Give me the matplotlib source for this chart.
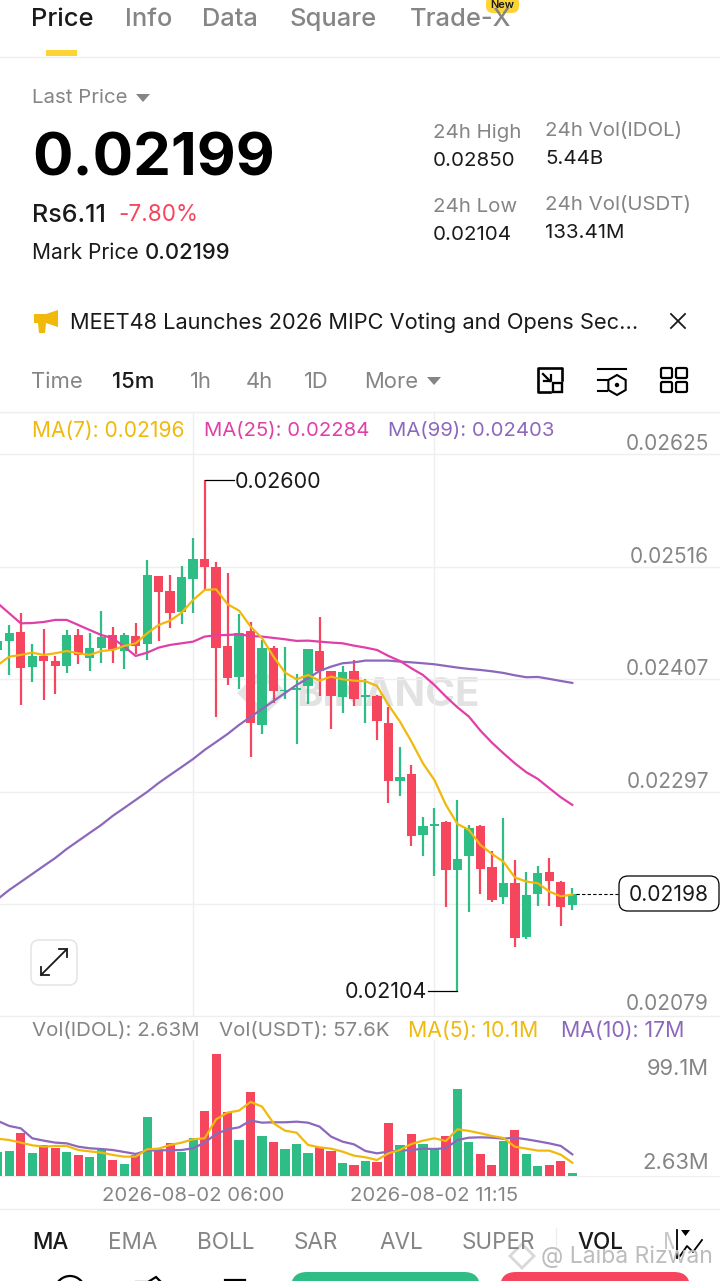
import numpy as np
import matplotlib
matplotlib.use('Agg')
import matplotlib.pyplot as plt
from matplotlib.patches import FancyBboxPatch, Polygon, Rectangle, RegularPolygon, Circle

plt.rcParams['font.family'] = ['Inter', 'DejaVu Sans']

# candles, prices in units of 0.00001
opens = [2435.0, 2443.8, 2452.5, 2418.5, 2429.2, 2424.7, 2419.5, 2449.6, 2427.2, 2437.3, 2449.6, 2434.0, 2448.6,
         2440.8, 2506.6, 2492.7, 2471.6, 2503.7, 2523.7, 2515.6, 2438.6, 2408.5, 2453.5, 2361.8, 2436.6, 2394.9,
         2396.2, 2399.7, 2434.4, 2414.3, 2389.4, 2414.3, 2389.7, 2390.7, 2364.4, 2307.8, 2314.3, 2255.6, 2264.4,
         2268.3, 2221.6, 2234.6, 2264.4, 2224.2, 2194.8, 2209.0, 2156.6, 2197.7, 2219.0, 2210.0, 2187.6]
closes = [2443.8, 2451.5, 2417.5, 2429.2, 2424.7, 2419.5, 2449.6, 2430.2, 2437.3, 2447.6, 2435.0, 2449.6, 2438.9,
          2507.6, 2491.7, 2470.6, 2505.6, 2523.7, 2515.6, 2436.6, 2407.5, 2451.5, 2363.8, 2436.6, 2394.9, 2396.5,
          2398.1, 2435.7, 2415.0, 2390.3, 2413.3, 2387.4, 2391.0, 2365.7, 2307.8, 2311.3, 2254.7, 2264.0, 2266.0,
          2221.6, 2232.3, 2261.8, 2222.6, 2192.5, 2209.0, 2155.6, 2197.0, 2218.1, 2210.3, 2185.7, 2197.7]
highs = [2452.5, 2459.3, 2470.6, 2440.5, 2455.4, 2429.2, 2454.4, 2455.4, 2451.5, 2472.6, 2457.4, 2451.5, 2461.2,
         2522.4, 2506.9, 2507.6, 2516.3, 2543.5, 2600.0, 2520.2, 2509.5, 2469.7, 2462.2, 2444.7, 2438.6, 2437.6,
         2411.7, 2436.3, 2466.8, 2415.0, 2419.5, 2425.3, 2407.2, 2391.6, 2380.0, 2340.5, 2323.3, 2273.1, 2281.2,
         2268.6, 2289.0, 2265.4, 2265.4, 2240.1, 2271.5, 2231.4, 2219.0, 2225.2, 2232.6, 2210.3, 2203.5]
lows = [2422.4, 2410.7, 2381.6, 2404.3, 2386.4, 2392.3, 2412.7, 2421.4, 2414.6, 2422.4, 2422.4, 2416.6, 2431.1,
        2425.3, 2443.8, 2456.7, 2460.3, 2470.6, 2493.3, 2370.3, 2400.7, 2397.5, 2330.8, 2353.4, 2383.2, 2387.7,
        2343.7, 2382.6, 2390.3, 2358.6, 2373.5, 2380.6, 2364.4, 2347.6, 2286.7, 2293.5, 2244.3, 2235.2, 2215.5,
        2185.7, 2104.0, 2180.5, 2198.3, 2190.6, 2188.6, 2146.5, 2154.6, 2186.7, 2186.7, 2167.3, 2182.5]

ma7 = [2420.4, 2428.5, 2430.2, 2432.4, 2430.2, 2431.8, 2434.0, 2431.8, 2430.2, 2434.0, 2435.0, 2438.9, 2441.5,
       2451.2, 2459.3, 2463.5, 2471.3, 2483.6, 2493.3, 2494.0, 2479.4, 2473.2, 2457.7, 2446.4, 2428.5, 2413.0,
       2406.5, 2410.7, 2405.2, 2409.1, 2406.5, 2405.2, 2404.6, 2400.1, 2381.6, 2365.4, 2346.0, 2324.9, 2308.7,
       2284.5, 2266.0, 2260.2, 2245.6, 2236.9, 2229.4, 2214.0, 2210.0, 2208.4, 2200.3, 2195.7, 2197.4]
ma25 = [2480.3, 2470.6, 2460.9, 2461.2, 2462.2, 2464.2, 2464.2, 2459.3, 2454.4, 2449.6, 2446.4, 2438.3, 2429.2,
        2432.4, 2437.3, 2439.9, 2441.5, 2443.1, 2448.0, 2449.3, 2449.6, 2450.2, 2448.6, 2448.0, 2446.7, 2445.4,
        2443.8, 2444.1, 2443.1, 2442.2, 2441.5, 2439.2, 2437.3, 2435.0, 2429.2, 2424.3, 2417.2, 2410.7, 2401.0,
        2389.7, 2379.3, 2370.3, 2356.7, 2345.0, 2334.7, 2324.9, 2316.2, 2309.7, 2300.7, 2291.9, 2284.5]
ma99 = [2193.1, 2201.9, 2209.6, 2217.4, 2225.2, 2232.9, 2241.7, 2249.5, 2257.3, 2265.0, 2273.8, 2281.5, 2289.3,
        2297.1, 2305.8, 2313.6, 2321.3, 2329.1, 2337.9, 2345.6, 2353.4, 2362.2, 2370.0, 2377.7, 2385.5, 2393.2,
        2401.0, 2407.5, 2414.6, 2418.8, 2422.1, 2423.0, 2424.7, 2424.7, 2424.7, 2423.7, 2423.0, 2422.1, 2421.1,
        2419.5, 2417.9, 2416.6, 2415.6, 2414.3, 2412.7, 2410.4, 2408.5, 2408.8, 2406.9, 2404.9, 2403.0]

# volume in millions
volume = [19.8, 20.6, 35.2, 19.0, 25.2, 23.0, 19.5, 17.1, 15.7, 21.1, 13.0, 9.5, 17.1, 47.7, 21.1, 26.5, 19.8,
          30.6, 53.1, 99.1, 51.7, 29.2, 68.0, 32.8, 27.9, 21.7, 25.7, 18.4, 23.3, 20.6, 10.3, 8.7, 11.9, 11.4,
          43.3, 25.2, 34.1, 26.0, 23.0, 32.5, 70.9, 27.4, 17.9, 9.2, 28.4, 37.4, 18.1, 8.4, 8.7, 12.5, 2.7]
vol_ma5 = [30.3, 29.2, 27.1, 24.9, 23.8, 24.4, 24.4, 21.1, 20.0, 19.0, 17.1, 15.7, 15.7, 21.7, 22.2, 25.2, 27.1,
           29.8, 30.6, 46.0, 51.5, 53.1, 60.1, 56.3, 42.8, 36.8, 35.2, 25.2, 23.3, 22.2, 19.8, 16.5, 15.2, 13.0,
           18.4, 21.1, 26.0, 28.7, 30.6, 28.4, 37.9, 36.6, 34.7, 32.5, 30.9, 23.8, 22.2, 20.6, 20.6, 17.3, 10.8]
vol_ma10 = [44.7, 40.6, 38.7, 30.6, 28.7, 27.1, 26.5, 23.8, 22.5, 21.9, 21.1, 19.5, 17.9, 20.6, 20.9, 20.9, 21.1,
            22.5, 27.1, 34.1, 37.9, 39.5, 45.0, 43.3, 43.6, 43.6, 44.1, 43.3, 40.1, 32.0, 27.9, 25.7, 20.3, 18.4,
            19.8, 20.6, 21.1, 22.2, 21.9, 22.5, 29.2, 31.1, 31.4, 31.1, 30.3, 31.1, 29.8, 28.2, 26.5, 24.4, 17.6]

price_ticks = [0.02625, 0.02516, 0.02407, 0.02297, 0.02188]
price_tick_labels = ['0.02625', '0.02516', '0.02407', '0.02297']
date_positions = [17, 38]
date_labels = ['2026-08-02 06:00', '2026-08-02 11:15']

GREEN = '#2ebd85'
RED = '#f6465d'
YELLOW = '#f0b90b'
PINK = '#e13fa8'
PURPLE = '#8c68bd'
GRAY = '#858585'
DARK = '#1a1a1a'
GRID = '#efefef'

W, H = 720, 1281
fig = plt.figure(figsize=(W / 100, H / 100), dpi=100, facecolor='white')


def box(top, bottom):
    return [0, 1 - bottom / H, 1, (bottom - top) / H]


x = np.arange(len(opens))
xlim = (2.2 / 11.49, 722.2 / 11.49)
o, c, hi, lo = [np.array(v) / 1e5 for v in (opens, closes, highs, lows)]
up = c >= o
colors = np.where(up, GREEN, RED)

# price panel
ax = fig.add_axes(box(412, 1016), facecolor='none')
ax.set_xlim(xlim)
ax.set_ylim(0.020794, 0.026662)
ax.vlines(x, lo, hi, colors=colors, lw=1.6, zorder=3)
ax.bar(x, np.abs(c - o), bottom=np.minimum(o, c), width=0.81, color=colors, zorder=4)
ax.plot(x, np.array(ma99) / 1e5, color=PURPLE, lw=1.6, zorder=5)
ax.plot(x, np.array(ma25) / 1e5, color=PINK, lw=1.6, zorder=6)
ax.plot(x, np.array(ma7) / 1e5, color=YELLOW, lw=1.6, zorder=7)
ax.set_xticks(date_positions)
ax.set_yticks(price_ticks)
ax.grid(True, color=GRID, lw=1, zorder=0)
ax.tick_params(length=0, labelbottom=False, labelleft=False)
for s in ax.spines.values():
    s.set_visible(False)
for val, lab in zip(price_ticks, price_tick_labels):
    ax.annotate(lab, (1, val), xycoords=ax.get_yaxis_transform(), xytext=(-8, 0), textcoords='offset points',
                ha='right', va='bottom', fontsize=15, color=GRAY, zorder=8)
ax.annotate('0.02079', (1, 0.02079), xycoords=ax.get_yaxis_transform(), xytext=(-8, 1.5), textcoords='offset points',
            ha='right', va='bottom', fontsize=15, color=GRAY, annotation_clip=False)

# high and low markers
ax.plot([18, 20.6], [0.026, 0.026], color='black', lw=0.9, zorder=8)
ax.annotate('0.02600', (20.65, 0.026), xytext=(0, -1.5), textcoords='offset points', fontsize=15.5, color=DARK,
            va='center', zorder=8)
ax.plot([37.45, 40], [0.02104, 0.02104], color='black', lw=0.9, zorder=8)
ax.annotate('0.02104', (37.4, 0.02104), xytext=(0, -1), textcoords='offset points', fontsize=15.5, color=DARK,
            va='center', ha='right', zorder=8)
ax.plot([50.3, 54], [c[-1], c[-1]], color='black', lw=0.8, dashes=(3, 2), zorder=8)

# volume panel
vax = fig.add_axes(box(1040, 1176), facecolor='none')
vax.set_xlim(xlim)
vax.set_ylim(0, 110.4)
vax.bar(x, volume, width=0.8, color=colors, zorder=3)
vax.plot(x, vol_ma10, color=PURPLE, lw=1.6, zorder=5)
vax.plot(x, vol_ma5, color=YELLOW, lw=1.6, zorder=6)
vax.set_xticks(date_positions)
vax.set_xticklabels(date_labels, fontsize=14.6, color=GRAY)
vax.set_yticks([])
vax.grid(True, axis='x', color=GRID, lw=1, zorder=0)
vax.tick_params(length=0, pad=8, labelleft=False)
for s in vax.spines.values():
    s.set_visible(False)
vax.spines['bottom'].set_visible(True)
vax.spines['bottom'].set_color(GRID)

# everything else lives in pixel coordinates
ui = fig.add_axes([0, 0, 1, 1], facecolor='none', zorder=10)
ui.set_xlim(0, W)
ui.set_ylim(H, 0)
ui.axis('off')


def label(px, py, s, size, color=DARK, weight='normal', ha='left', alpha=1.0, z=6):
    ui.text(px, py + 2, s, fontsize=size * 0.72, color=color, fontweight=weight, ha=ha, va='center', alpha=alpha,
            zorder=z)


def hline(y0, x0=0, x1=W, color=GRID, lw=1):
    ui.plot([x0, x1], [y0, y0], color=color, lw=lw)


def rbox(x0, y0, w, h, r, fc='none', ec='none', lw=1.0):
    ui.add_patch(FancyBboxPatch((x0 + r, y0 + r), w - 2 * r, h - 2 * r, boxstyle=f'round,pad={r}',
                                fc=fc, ec=ec, lw=lw))


def tri(px, py, w=14, h=8, color=GRAY):
    ui.add_patch(Polygon([(px, py), (px + w, py), (px + w / 2, py + h)], fc=color, ec='none', zorder=6))


# watermark goes behind the candles
ax.text(388, 695, 'BINANCE', transform=ui.transData, fontsize=29, fontweight='bold', color='#e2e2e2',
        ha='center', va='center', zorder=1)
ax.add_patch(RegularPolygon((262, 693), 4, radius=20, transform=ui.transData, fc='none', ec='#e4e4e4', lw=5,
                            zorder=1))

# tabs
for px, s, col, w in [(31, 'Price', DARK, 'medium'), (125, 'Info', GRAY, 'medium'), (202, 'Data', GRAY, 'medium'),
                      (290, 'Square', GRAY, 'medium'), (410, 'Trade-X', GRAY, 'medium')]:
    label(px, 17.5, s, 25.5, col, w)
ui.add_patch(Rectangle((46, 50), 31, 6, fc='#fcd535', ec='none'))
hline(56.5)
rbox(486, -4, 33, 17, 7, fc='#fcd535')
label(502.5, 3.5, 'New', 11, DARK, 'semibold', ha='center')

# ticker block
label(32, 96, 'Last Price', 20.5, GRAY)
tri(136, 94)
label(32, 158, '0.02199', 60, 'black', 'bold')
label(32, 213, 'Rs6.11', 25, DARK, 'medium')
label(118, 213, '-7.80%', 22.5, RED)
label(32, 251, 'Mark Price', 21, DARK)
label(145, 251, '0.02199', 22, DARK, 'medium')
for px, py, s, v in [(433, 131, '24h High', '0.02850'), (545, 129, '24h Vol(IDOL)', '5.44B'),
                     (433, 205, '24h Low', '0.02104'), (545, 203, '24h Vol(USDT)', '133.41M')]:
    label(px, py, s, 20.5, GRAY)
    label(px, py + 28, v, 20.5, DARK)

# notice line
ui.add_patch(Polygon([(34, 314), (46, 314), (58, 310), (58, 327), (46, 323), (45, 333), (39, 333), (38, 323), (34, 323)],
                     fc=YELLOW, ec='none'))
label(70, 321, 'MEET48 Launches 2026 MIPC Voting and Opens Sec...', 21.8)
ui.plot([671, 685], [314, 328], color=DARK, lw=1.3)
ui.plot([671, 685], [328, 314], color=DARK, lw=1.3)

# interval row
for px, s, col, w in [(31, 'Time', GRAY, 'normal'), (112, '15m', DARK, 'medium'), (190, '1h', GRAY, 'normal'),
                      (246, '4h', GRAY, 'normal'), (304, '1D', GRAY, 'normal'), (364, 'More', GRAY, 'normal')]:
    label(px, 380, s, 22, col, w)
tri(427, 377)
# icons
ui.plot([550, 538, 538, 562, 562], [392, 392, 368, 368, 380], color='black', lw=1.9, solid_joinstyle='round')
ui.add_patch(Rectangle((553, 383), 9, 9, fc='white', ec='black', lw=1.7))
ui.plot([543, 550], [374, 381], color='black', lw=1.6)
ui.plot([544, 551, 551], [381, 381, 375], color='black', lw=1.6)
ui.plot([598, 626], [369, 369], color='black', lw=1.5)
for yy in (380, 391):
    ui.plot([598, 607], [yy, yy], color='black', lw=1.5)
ui.add_patch(RegularPolygon((617, 385), 6, radius=10, fc='white', ec='black', lw=1.5))
ui.add_patch(Circle((617, 385), 2.2, fc='black', ec='none'))
for bx in (661, 676):
    for by in (368, 382):
        rbox(bx, by, 11, 10, 1.5, ec='black', lw=1.6)

hline(411.5)
label(32, 429, 'MA(7): 0.02196', 21, YELLOW)
label(204, 429, 'MA(25): 0.02284', 20.3, PINK)
label(388, 429, 'MA(99): 0.02403', 20.3, PURPLE)

# last price box and expand button
rbox(619, 876, 100, 35, 9, fc='white', ec='black', lw=0.9)
label(669, 893, '0.02198', 21, DARK, ha='center')
rbox(31, 940, 46, 45, 8, fc='white', ec='#e6e6e6', lw=1.2)
ui.plot([41, 67], [975, 949], color=DARK, lw=1.3)
ui.plot([41, 41, 49], [967, 975, 975], color=DARK, lw=1.3)
ui.plot([59, 67, 67], [949, 949, 957], color=DARK, lw=1.3)

# volume header
hline(1016)
label(32, 1029, 'Vol(IDOL): 2.63M', 20.5, GRAY)
label(219, 1029, 'Vol(USDT): 57.6K', 20.5, GRAY)
label(408, 1029, 'MA(5): 10.1M', 21.3, YELLOW)
label(561, 1029, 'MA(10): 17M', 21.3, PURPLE)
label(709, 1067, '99.1M', 22, GRAY, ha='right')
label(709, 1161, '2.63M', 22, GRAY, ha='right')

# indicator tabs
hline(1208.5)
for px, s, col, w in [(32, 'MA', DARK, 'medium'), (108, 'EMA', GRAY, 'normal'), (197, 'BOLL', GRAY, 'normal'),
                      (294, 'SAR', GRAY, 'normal'), (379, 'AVL', GRAY, 'normal'), (462, 'SUPER', GRAY, 'normal'),
                      (577, 'VOL', DARK, 'medium')]:
    label(px, 1241, s, 22.5, col, w)
label(663, 1241, 'M', 22.5, '#c8c8c8', z=2)
ui.plot([556, 556], [1228, 1258], color=GRID, lw=1)
ui.add_patch(Rectangle((674, 1225), 34, 35, fc='white', ec='none', zorder=3))
ui.plot([677, 677], [1230, 1258], color='black', lw=1.3, zorder=4)
ui.plot([680, 687, 693, 702], [1256, 1246, 1252, 1240], color='black', lw=1.3, zorder=4)
tri(681, 1230, 9, 6, 'black')

# screenshot watermark
ui.add_patch(RegularPolygon((522, 1256), 4, radius=12, fc='none', ec='#d8d8d8', lw=2, zorder=5))
label(541, 1255, '@ Laiba Rizwan', 23, '#bdbdbd', z=5)

# bottom bar, cut off by the screen edge
rbox(291, 1272, 189, 40, 16, fc=GREEN)
rbox(500, 1272, 190, 40, 16, fc=RED)
ui.add_patch(Circle((70, 1291), 15, fc='none', ec='black', lw=1.6))
ui.add_patch(Polygon([(135, 1282), (148, 1282), (156, 1277), (164, 1285), (164, 1295), (135, 1295)], fc='none',
                     ec='black', lw=1.6))
ui.plot([225, 245], [1280, 1280], color='black', lw=1.6)
ui.set_xlim(0, W)
ui.set_ylim(H, 0)

fig.savefig('out.png', dpi=100)
